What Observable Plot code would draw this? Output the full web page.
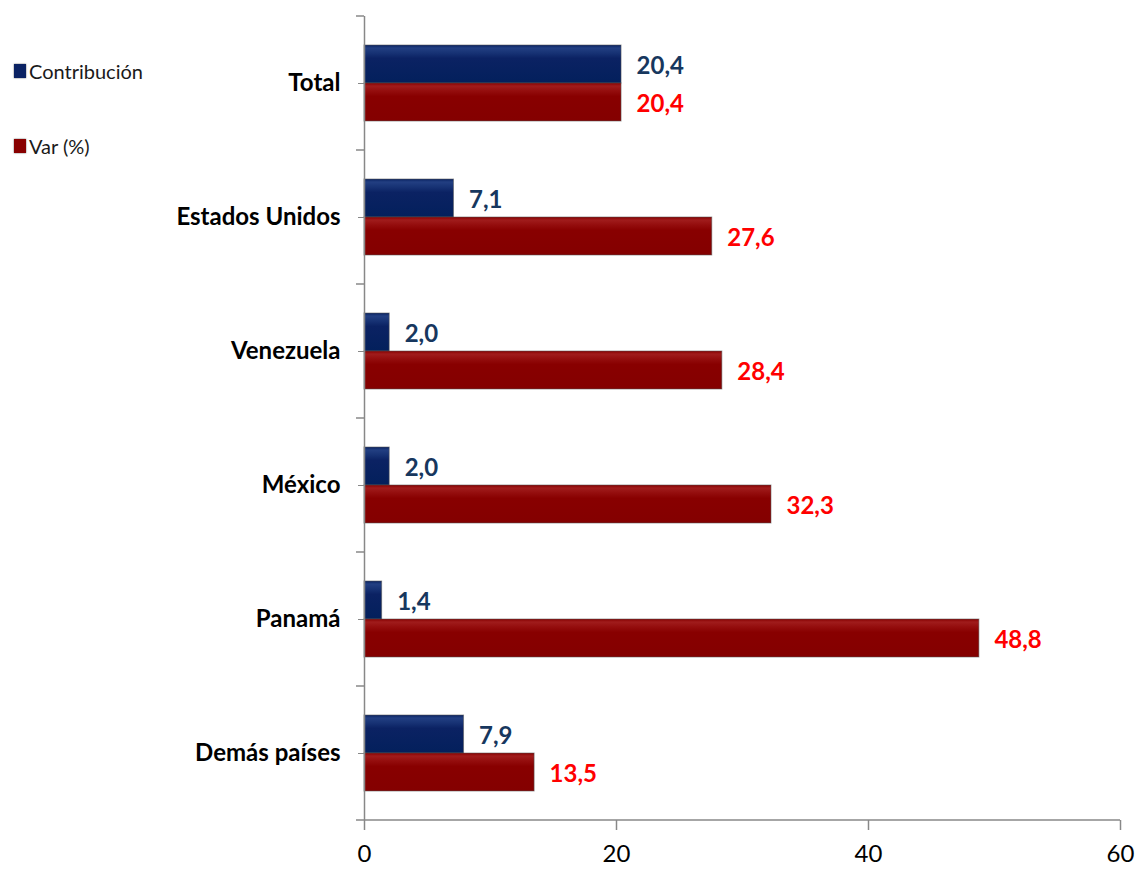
<!DOCTYPE html>
<html>
<head>
<meta charset="utf-8">
<script src="https://cdn.jsdelivr.net/npm/d3@7"></script>
<script src="https://cdn.jsdelivr.net/npm/@observablehq/plot@0.6"></script>
<style>
  html, body { margin: 0; padding: 0; background: #fff; }
  #wrap { position: relative; width: 1137px; height: 869px; font-family: Lato, "Open Sans", sans-serif; }
  #legend { position: absolute; left: 14px; top: 0; font-size: 20px; color: #1a1a1a; }
  .item { position: absolute; left: 0; display: flex; align-items: center; white-space: nowrap; }
  .sw { width: 12px; height: 14px; margin-right: 3px; box-shadow: 0 0 1.5px #555; }
</style>
</head>
<body>
<div id="wrap"><div id="legend"></div></div>
<script>
const categories = ["Total", "Estados Unidos", "Venezuela", "México", "Panamá", "Demás países"];
const series = ["Contribución", "Var (%)"];
const contribucion = [20.4, 7.1, 2.0, 2.0, 1.4, 7.9];
const variacion = [20.4, 27.6, 28.4, 32.3, 48.8, 13.5];
const xTicks = [0, 20, 40, 60];

const barColors = ["#0b2263", "#880000"];
const labelColors = ["#17375e", "#ff0000"];

const data = categories.flatMap((c, i) => [
  {cat: c, serie: series[0], value: contribucion[i]},
  {cat: c, serie: series[1], value: variacion[i]}
]);
const fmt = v => d3.format(".1f")(v).replace(".", ",");

const plot = Plot.plot({
  width: 1137,
  height: 869,
  marginLeft: 364,
  marginRight: 17,
  marginTop: 15,
  marginBottom: 49,
  style: {fontFamily: "Lato, 'Open Sans', sans-serif", background: "white"},
  x: {domain: [0, 60], ticks: xTicks},
  fy: {domain: categories, padding: 0, label: null},
  y: {domain: series, paddingInner: 0, paddingOuter: 0.72, axis: null},
  marks: [
    Plot.barX(data.filter(d => d.serie === series[0]), {x: "value", y: "serie", fy: "cat", fill: "url(#gBlue)", stroke: "#555", strokeOpacity: 0.55, strokeWidth: 1}),
    Plot.barX(data.filter(d => d.serie === series[1]), {x: "value", y: "serie", fy: "cat", fill: "url(#gRed)", stroke: "#555", strokeOpacity: 0.55, strokeWidth: 1}),
    Plot.ruleX([0], {stroke: "#888", strokeWidth: 1.5}),
    Plot.text(data, {
      x: "value", y: "serie", fy: "cat",
      text: d => fmt(d.value),
      dx: 15, dy: 2, textAnchor: "start",
      fill: d => labelColors[series.indexOf(d.serie)],
      fontSize: 24, fontWeight: "bold"
    }),
    Plot.axisFy({anchor: "left", tickSize: 6, tickPadding: 18, stroke: "#888", fill: "black", fontSize: 24, fontWeight: "bold", label: null}),
    Plot.axisX({ticks: xTicks, tickSize: 10, tickPadding: 14, stroke: "#888", strokeWidth: 1.5, fill: "black", fontSize: 24, label: null})
  ]
});

document.getElementById("wrap").appendChild(plot);

// gradients for glossy bars
const svg = d3.select(plot);
const defs = svg.insert("defs", ":first-child");
function grad(id, stops) {
  const g = defs.append("linearGradient").attr("id", id).attr("x1", 0).attr("y1", 0).attr("x2", 0).attr("y2", 1);
  stops.forEach(([o, c]) => g.append("stop").attr("offset", o).attr("stop-color", c));
}
grad("gBlue", [["0%", "#0a2262"], ["8%", "#223f82"], ["22%", "#163173"], ["35%", "#0b2263"], ["100%", "#03205c"]]);
grad("gRed", [["0%", "#870000"], ["8%", "#a01c1c"], ["22%", "#930c0c"], ["35%", "#880000"], ["100%", "#840000"]]);

// axis lines and category boundary ticks, from the x and fy scales
const fy = plot.scale("fy");
const x = plot.scale("x");
const x0 = x.apply(0);
const xEnd = x.apply(x.domain[1]);
const yBottom = fy.apply(categories[categories.length - 1]) + fy.bandwidth;
const bounds = categories.map(c => fy.apply(c)).concat([yBottom]);
const axes = svg.append("g").attr("stroke", "#888").attr("stroke-width", 1.5);
axes.selectAll("line.b").data(bounds).join("line").attr("class", "b")
  .attr("x1", x0 - 8).attr("x2", x0).attr("y1", d => d).attr("y2", d => d);
axes.append("line").attr("x1", x0).attr("x2", xEnd).attr("y1", yBottom).attr("y2", yBottom);

// legend
const legend = document.getElementById("legend");
const legendTops = [72, 147];
series.forEach((s, i) => {
  const it = document.createElement("div");
  it.className = "item";
  it.style.top = (legendTops[i] - 13) + "px";
  it.innerHTML = `<span class="sw" style="background:${barColors[i]}"></span><span>${s}</span>`;
  legend.appendChild(it);
});
</script>
</body>
</html>
